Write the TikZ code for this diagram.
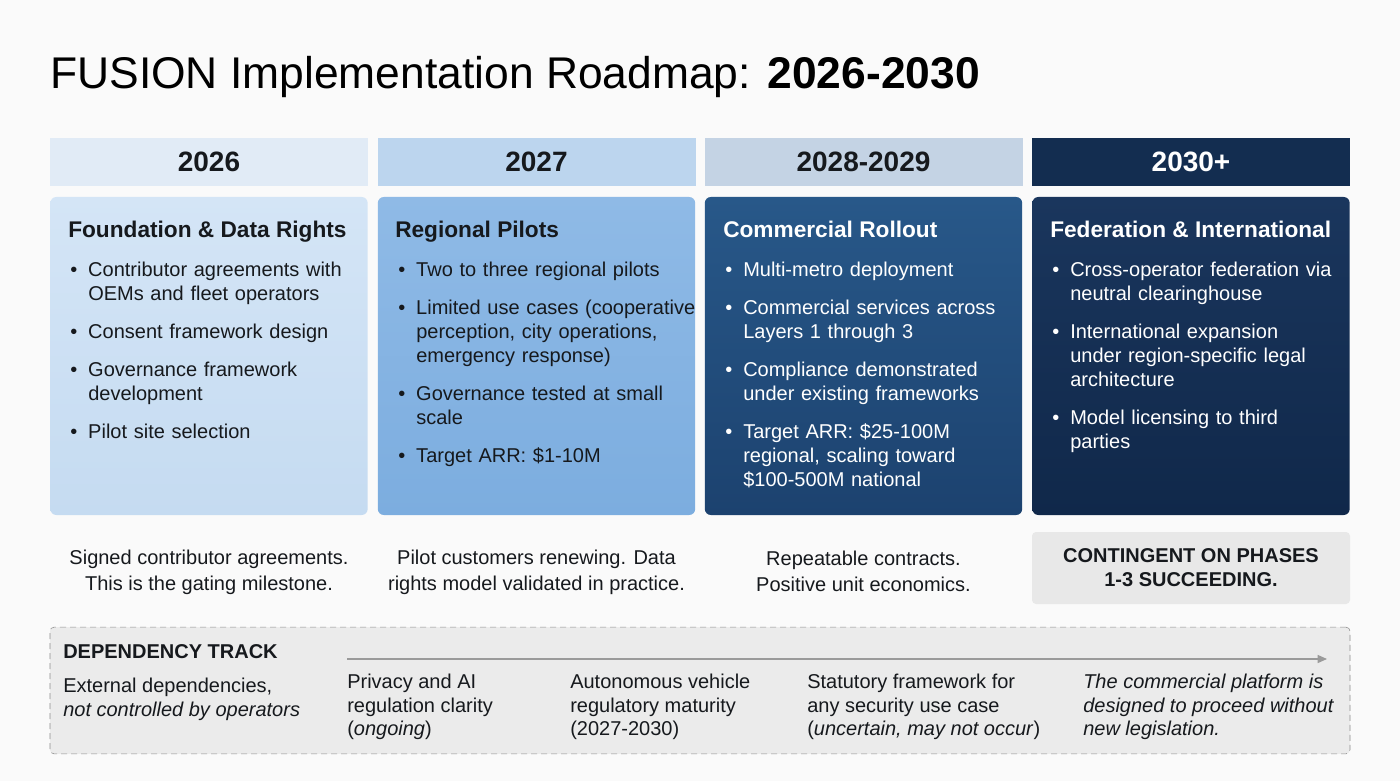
\documentclass[tikz,border=0pt]{standalone}
\usepackage{fontspec}
\setmainfont{Liberation Sans}
\usetikzlibrary{arrows.meta}
\definecolor{pagebg}{HTML}{FAFAFA}
\definecolor{inkdark}{HTML}{16191D}
\definecolor{hdrA}{HTML}{E1EBF6}
\definecolor{hdrB}{HTML}{BCD5EE}
\definecolor{hdrC}{HTML}{C4D3E4}
\definecolor{hdrD}{HTML}{132D50}
\definecolor{cardAtop}{HTML}{D4E5F6}
\definecolor{cardAbot}{HTML}{C5DBF1}
\definecolor{cardBtop}{HTML}{8FBAE6}
\definecolor{cardBbot}{HTML}{7CADDF}
\definecolor{cardCtop}{HTML}{285889}
\definecolor{cardCbot}{HTML}{1C426F}
\definecolor{cardDtop}{HTML}{1A365D}
\definecolor{cardDbot}{HTML}{10284A}
\definecolor{contgrey}{HTML}{E8E8E8}
\definecolor{trackgrey}{HTML}{EBEBEB}
\definecolor{trackline}{HTML}{9A9A9A}
\definecolor{trackedge}{HTML}{8C8C8C}
\newcommand\pitem[1]{\par\hangindent=15pt\hangafter=1\noindent\makebox[15pt][l]{\hspace{1.5pt}\textbullet}#1}

\begin{document}
\begin{tikzpicture}[x=0.75pt,y=-0.75pt,
    hdr/.style={minimum width=238.5pt,minimum height=36pt,inner sep=0pt,font=\fontsize{21}{24}\selectfont\bfseries},
    card/.style={minimum width=238pt,minimum height=238.5pt,inner sep=0pt,rounded corners=4.5pt},
    ctitle/.style={anchor=base west,inner sep=0pt,font=\fontsize{17}{21}\selectfont\bfseries},
    clist/.style={anchor=north west,inner sep=0pt,text width=226pt,align=left,
      font=\fontsize{15}{18}\selectfont,execute at begin node={\setlength{\parskip}{10.5pt}}},
    gate/.style={inner sep=0pt,align=center,text=inkdark,font=\fontsize{15}{19.5}\selectfont},
    deptext/.style={anchor=north west,inner sep=0pt,align=left,text=inkdark,font=\fontsize{15}{17.5}\selectfont}]
  \useasboundingbox (0,0) rectangle (1400,781);
  \fill[pagebg] (0,0) rectangle (1400,781);

  % title
  \node (title) at (50,89) [anchor=base west,inner sep=0pt,font=\fontsize{33.3}{38}\selectfont] {FUSION Implementation Roadmap: \textbf{2026-2030}};

  % year headers
  \node (H1) at (209,162) [hdr,fill=hdrA,text=inkdark] {2026};
  \node (H2) at (536.5,162) [hdr,fill=hdrB,text=inkdark] {2027};
  \node (H3) at (863.5,162) [hdr,fill=hdrC,text=inkdark] {2028-2029};
  \node (H4) at (1191,162) [hdr,fill=hdrD,text=white] {2030+};

  % phase cards
  \node (C1) at (209,356) [card,top color=cardAtop,bottom color=cardAbot] {};
  \node (C2) at (536.5,356) [card,top color=cardBtop,bottom color=cardBbot] {};
  \node (C3) at (863.5,356) [card,top color=cardCtop,bottom color=cardCbot] {};
  \node (C4) at (1191,356) [card,top color=cardDtop,bottom color=cardDbot] {};

  \node (T1) at (68,238) [ctitle,text=inkdark] {Foundation \& Data Rights};
  \node (T2) at (395,238) [ctitle,text=inkdark] {Regional Pilots};
  \node (T3) at (723,238) [ctitle,text=white] {Commercial Rollout};
  \node (T4) at (1050,238) [ctitle,text=white] {Federation \& International};

  \node (L1) at (68,238) [clist,text=inkdark] {%
    \pitem{Contributor agreements with\newline OEMs and fleet operators}
    \pitem{Consent framework design}
    \pitem{Governance framework\newline development}
    \pitem{Pilot site selection}\par};
  \node (L2) at (396,238) [clist,text=inkdark] {%
    \pitem{Two to three regional pilots}
    \pitem{Limited use cases (cooperative\newline perception, city operations,\newline emergency response)}
    \pitem{Governance tested at small\newline scale}
    \pitem{Target ARR: \$1-10M}\par};
  \node (L3) at (723,238) [clist,text=white] {%
    \pitem{Multi-metro deployment}
    \pitem{Commercial services across\newline Layers 1 through 3}
    \pitem{Compliance demonstrated\newline under existing frameworks}
    \pitem{Target ARR: \$25-100M\newline regional, scaling toward\newline \$100-500M national}\par};
  \node (L4) at (1050,238) [clist,text=white] {%
    \pitem{Cross-operator federation via\newline neutral clearinghouse}
    \pitem{International expansion\newline under region-specific legal\newline architecture}
    \pitem{Model licensing to third\newline parties}\par};

  % gating milestones
  \node (G1) at (209,572) [gate] {Signed contributor agreements.\\This is the gating milestone.};
  \node (G2) at (536.5,572) [gate] {Pilot customers renewing. Data\\rights model validated in practice.};
  \node (G3) at (863.5,571) [gate] {Repeatable contracts.\\Positive unit economics.};
  \node (G4) at (1191,568) [gate,fill=contgrey,rounded corners=3pt,minimum width=238.5pt,minimum height=54pt,
    font=\fontsize{15}{18}\selectfont\bfseries] {CONTINGENT ON PHASES\\1-3 SUCCEEDING.};

  % dependency track
  \node (D) at (700,690.5) [draw=trackedge,fill=trackgrey,dash pattern=on 4.5pt off 3pt,rounded corners=3pt,
    minimum width=975pt,minimum height=95pt,inner sep=0pt] {};
  \node (Dlabel) at (63,658) [anchor=base west,inner sep=0pt,text=inkdark,font=\fontsize{15}{18}\selectfont\bfseries] {DEPENDENCY TRACK};
  \coordinate (trackA) at (347,659);
  \coordinate (trackB) at (1327,659);
  \draw[trackline,line width=1pt,-{Triangle[length=7pt,width=6pt]}] (trackA) -- (trackB);

  \node (D1) at (63,678) [deptext,font=\fontsize{15}{18}\selectfont] {External dependencies,\\\textit{not controlled by operators}};
  \node (D2) at (347,674) [deptext] {Privacy and AI\\regulation clarity\\(\textit{ongoing})};
  \node (D3) at (570,674) [deptext] {Autonomous vehicle\\regulatory maturity\\(2027-2030)};
  \node (D4) at (807,674) [deptext] {Statutory framework for\\any security use case\\(\textit{uncertain, may not occur})};
  \node (D5) at (1083,674) [deptext] {\textit{The commercial platform is}\\\textit{designed to proceed without}\\\textit{new legislation.}};
\end{tikzpicture}
\end{document}
